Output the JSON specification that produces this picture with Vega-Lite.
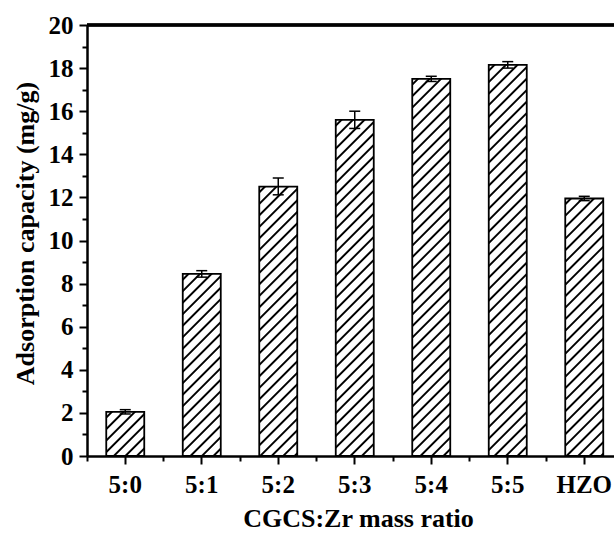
{
  "$schema": "https://vega.github.io/schema/vega-lite/v6.json",
  "autosize": {"type": "none"},
  "padding": {"left": 87, "top": 25, "right": 0, "bottom": 77},
  "width": 527,
  "height": 431,
  "background": "white",
  "config": {"view": {"stroke": null}, "font": "Liberation Serif"},
  "params": [
    {"name": "hatch", "value": [
      {"offset":0.008,"color":"#fff"},{"offset":0.011,"color":"#000"},{"offset":0.014,"color":"#000"},{"offset":0.017,"color":"#fff"},
      {"offset":0.033,"color":"#fff"},{"offset":0.036,"color":"#000"},{"offset":0.039,"color":"#000"},{"offset":0.042,"color":"#fff"},
      {"offset":0.058,"color":"#fff"},{"offset":0.061,"color":"#000"},{"offset":0.064,"color":"#000"},{"offset":0.067,"color":"#fff"},
      {"offset":0.083,"color":"#fff"},{"offset":0.086,"color":"#000"},{"offset":0.089,"color":"#000"},{"offset":0.092,"color":"#fff"},
      {"offset":0.108,"color":"#fff"},{"offset":0.111,"color":"#000"},{"offset":0.114,"color":"#000"},{"offset":0.117,"color":"#fff"},
      {"offset":0.133,"color":"#fff"},{"offset":0.136,"color":"#000"},{"offset":0.139,"color":"#000"},{"offset":0.142,"color":"#fff"},
      {"offset":0.158,"color":"#fff"},{"offset":0.161,"color":"#000"},{"offset":0.164,"color":"#000"},{"offset":0.167,"color":"#fff"},
      {"offset":0.183,"color":"#fff"},{"offset":0.186,"color":"#000"},{"offset":0.189,"color":"#000"},{"offset":0.192,"color":"#fff"},
      {"offset":0.208,"color":"#fff"},{"offset":0.211,"color":"#000"},{"offset":0.214,"color":"#000"},{"offset":0.217,"color":"#fff"},
      {"offset":0.233,"color":"#fff"},{"offset":0.236,"color":"#000"},{"offset":0.239,"color":"#000"},{"offset":0.242,"color":"#fff"},
      {"offset":0.258,"color":"#fff"},{"offset":0.261,"color":"#000"},{"offset":0.264,"color":"#000"},{"offset":0.267,"color":"#fff"},
      {"offset":0.283,"color":"#fff"},{"offset":0.286,"color":"#000"},{"offset":0.289,"color":"#000"},{"offset":0.292,"color":"#fff"},
      {"offset":0.308,"color":"#fff"},{"offset":0.311,"color":"#000"},{"offset":0.314,"color":"#000"},{"offset":0.317,"color":"#fff"},
      {"offset":0.333,"color":"#fff"},{"offset":0.336,"color":"#000"},{"offset":0.339,"color":"#000"},{"offset":0.342,"color":"#fff"},
      {"offset":0.358,"color":"#fff"},{"offset":0.361,"color":"#000"},{"offset":0.364,"color":"#000"},{"offset":0.367,"color":"#fff"},
      {"offset":0.383,"color":"#fff"},{"offset":0.386,"color":"#000"},{"offset":0.389,"color":"#000"},{"offset":0.392,"color":"#fff"},
      {"offset":0.408,"color":"#fff"},{"offset":0.411,"color":"#000"},{"offset":0.414,"color":"#000"},{"offset":0.417,"color":"#fff"},
      {"offset":0.433,"color":"#fff"},{"offset":0.436,"color":"#000"},{"offset":0.439,"color":"#000"},{"offset":0.442,"color":"#fff"},
      {"offset":0.458,"color":"#fff"},{"offset":0.461,"color":"#000"},{"offset":0.464,"color":"#000"},{"offset":0.467,"color":"#fff"},
      {"offset":0.483,"color":"#fff"},{"offset":0.486,"color":"#000"},{"offset":0.489,"color":"#000"},{"offset":0.492,"color":"#fff"},
      {"offset":0.508,"color":"#fff"},{"offset":0.511,"color":"#000"},{"offset":0.514,"color":"#000"},{"offset":0.517,"color":"#fff"},
      {"offset":0.533,"color":"#fff"},{"offset":0.536,"color":"#000"},{"offset":0.539,"color":"#000"},{"offset":0.542,"color":"#fff"},
      {"offset":0.558,"color":"#fff"},{"offset":0.561,"color":"#000"},{"offset":0.564,"color":"#000"},{"offset":0.567,"color":"#fff"},
      {"offset":0.583,"color":"#fff"},{"offset":0.586,"color":"#000"},{"offset":0.589,"color":"#000"},{"offset":0.592,"color":"#fff"},
      {"offset":0.608,"color":"#fff"},{"offset":0.611,"color":"#000"},{"offset":0.614,"color":"#000"},{"offset":0.617,"color":"#fff"},
      {"offset":0.633,"color":"#fff"},{"offset":0.636,"color":"#000"},{"offset":0.639,"color":"#000"},{"offset":0.642,"color":"#fff"},
      {"offset":0.658,"color":"#fff"},{"offset":0.661,"color":"#000"},{"offset":0.664,"color":"#000"},{"offset":0.667,"color":"#fff"},
      {"offset":0.683,"color":"#fff"},{"offset":0.686,"color":"#000"},{"offset":0.689,"color":"#000"},{"offset":0.692,"color":"#fff"},
      {"offset":0.708,"color":"#fff"},{"offset":0.711,"color":"#000"},{"offset":0.714,"color":"#000"},{"offset":0.717,"color":"#fff"},
      {"offset":0.733,"color":"#fff"},{"offset":0.736,"color":"#000"},{"offset":0.739,"color":"#000"},{"offset":0.742,"color":"#fff"},
      {"offset":0.758,"color":"#fff"},{"offset":0.761,"color":"#000"},{"offset":0.764,"color":"#000"},{"offset":0.767,"color":"#fff"},
      {"offset":0.783,"color":"#fff"},{"offset":0.786,"color":"#000"},{"offset":0.789,"color":"#000"},{"offset":0.792,"color":"#fff"},
      {"offset":0.808,"color":"#fff"},{"offset":0.811,"color":"#000"},{"offset":0.814,"color":"#000"},{"offset":0.817,"color":"#fff"},
      {"offset":0.833,"color":"#fff"},{"offset":0.836,"color":"#000"},{"offset":0.839,"color":"#000"},{"offset":0.842,"color":"#fff"},
      {"offset":0.858,"color":"#fff"},{"offset":0.861,"color":"#000"},{"offset":0.864,"color":"#000"},{"offset":0.867,"color":"#fff"},
      {"offset":0.883,"color":"#fff"},{"offset":0.886,"color":"#000"},{"offset":0.889,"color":"#000"},{"offset":0.892,"color":"#fff"},
      {"offset":0.908,"color":"#fff"},{"offset":0.911,"color":"#000"},{"offset":0.914,"color":"#000"},{"offset":0.917,"color":"#fff"},
      {"offset":0.933,"color":"#fff"},{"offset":0.936,"color":"#000"},{"offset":0.939,"color":"#000"},{"offset":0.942,"color":"#fff"}
    ]}
  ],
  "data": {"values": [
    {"cat": "5:0", "value": 2.05, "lo": 1.95, "hi": 2.15},
    {"cat": "5:1", "value": 8.45, "lo": 8.3, "hi": 8.6},
    {"cat": "5:2", "value": 12.5, "lo": 12.12, "hi": 12.9},
    {"cat": "5:3", "value": 15.6, "lo": 15.2, "hi": 16.0},
    {"cat": "5:4", "value": 17.5, "lo": 17.38, "hi": 17.62},
    {"cat": "5:5", "value": 18.15, "lo": 18.0, "hi": 18.3},
    {"cat": "HZO", "value": 11.95, "lo": 11.85, "hi": 12.05}
  ]},
  "resolve": {"axis": {"x": "independent", "y": "independent"}},
  "layer": [
    {
      "mark": {
        "type": "bar",
        "width": 38,
        "stroke": "black",
        "strokeWidth": 1.8,
        "fill": {"expr": "{gradient: 'linear', x1: 0, y1: 0, x2: 460*38/(1444 + pow(datum.value*21.55, 2)), y2: 460*datum.value*21.55/(1444 + pow(datum.value*21.55, 2)), stops: hatch}"}
      },
      "encoding": {
        "x": {
          "field": "cat", "type": "nominal", "sort": null,
          "scale": {"domain": ["5:0", "5:1", "5:2", "5:3", "5:4", "5:5", "HZO"], "range": [0, 535.5], "paddingInner": 0, "paddingOuter": 0},
          "axis": {
            "orient": "bottom", "title": "CGCS:Zr mass ratio",
            "domainColor": "black", "domainWidth": 2.5,
            "tickColor": "black", "tickWidth": 2, "tickSize": 8,
            "labelAngle": 0, "labelFont": "Liberation Serif", "labelFontWeight": "bold", "labelFontSize": 25, "labelColor": "black",
            "labelBaseline": "alphabetic", "labelPadding": 28,
            "titleFont": "Liberation Serif", "titleFontWeight": "bold", "titleFontSize": 26, "titleColor": "black",
            "titleX": 271, "titleY": 70, "titleBaseline": "alphabetic", "titleAlign": "center",
            "grid": false
          }
        },
        "y": {
          "field": "value", "type": "quantitative",
          "scale": {"domain": [0, 20], "nice": false},
          "axis": {
            "orient": "left", "title": "Adsorption capacity (mg/g)",
            "values": [0, 2, 4, 6, 8, 10, 12, 14, 16, 18, 20],
            "domainColor": "black", "domainWidth": 2.5,
            "tickColor": "black", "tickWidth": 2, "tickSize": 8,
            "labelFont": "Liberation Serif", "labelFontWeight": "bold", "labelFontSize": 25, "labelColor": "black", "labelPadding": 6,
            "titleFont": "Liberation Serif", "titleFontWeight": "bold", "titleFontSize": 26, "titleColor": "black",
            "titleX": -54, "titleY": 208, "titleBaseline": "alphabetic", "titleAngle": -90, "titleAlign": "center",
            "grid": false
          }
        }
      }
    },
    {
      "mark": {"type": "rule", "color": "black", "strokeWidth": 1.5},
      "encoding": {
        "x": {
          "field": "cat", "type": "nominal", "sort": null,
          "axis": {"orient": "bottom", "title": null, "labels": false, "domain": false, "bandPosition": 0, "tickSize": 5, "tickWidth": 2, "tickColor": "black", "grid": false}
        },
        "y": {
          "field": "lo", "type": "quantitative",
          "axis": {"orient": "left", "title": null, "labels": false, "domain": false, "values": [1, 3, 5, 7, 9, 11, 13, 15, 17, 19], "tickSize": 5, "tickWidth": 2, "tickColor": "black", "grid": false}
        },
        "y2": {"field": "hi"}
      }
    },
    {
      "mark": {"type": "tick", "color": "black", "size": 11, "thickness": 1.5, "opacity": 1},
      "encoding": {
        "x": {"field": "cat", "type": "nominal", "sort": null, "axis": null},
        "y": {"field": "lo", "type": "quantitative", "axis": null}
      }
    },
    {
      "mark": {"type": "tick", "color": "black", "size": 11, "thickness": 1.5, "opacity": 1},
      "encoding": {
        "x": {"field": "cat", "type": "nominal", "sort": null, "axis": null},
        "y": {"field": "hi", "type": "quantitative", "axis": null}
      }
    },
    {
      "mark": {"type": "rule", "color": "black", "strokeWidth": 2.5},
      "encoding": {
        "y": {"datum": 20, "type": "quantitative", "axis": null}
      }
    }
  ]
}
